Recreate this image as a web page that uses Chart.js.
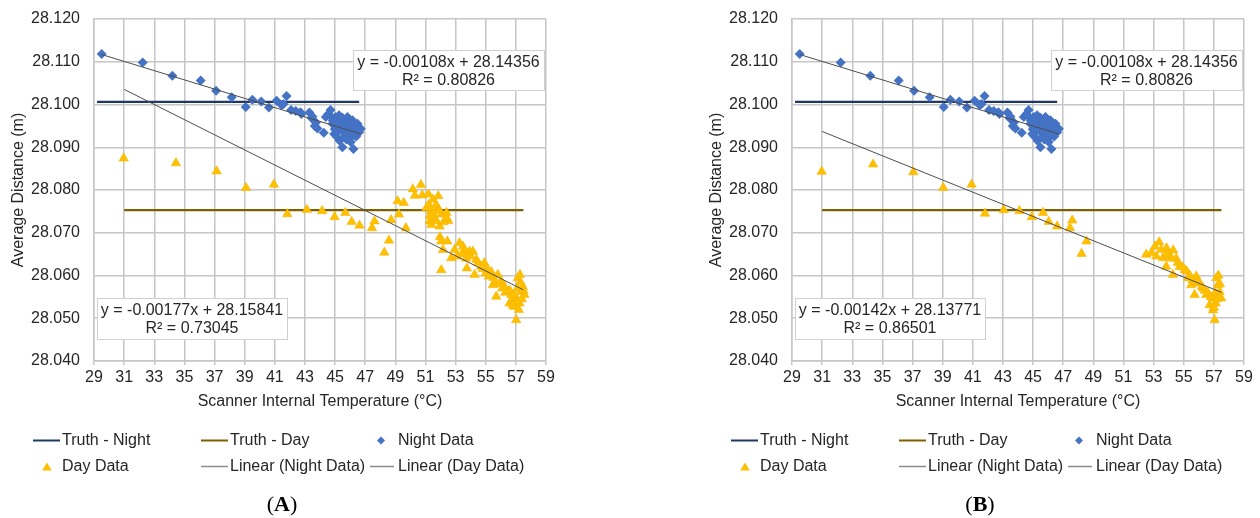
<!DOCTYPE html>
<html>
<head>
<meta charset="utf-8">
<script src="https://cdn.jsdelivr.net/npm/chart.js@4.4.1/dist/chart.umd.min.js"></script>
<style>
  html, body { margin: 0; padding: 0; background: #fff; }
  body { width: 1260px; height: 518px; position: relative; overflow: hidden; }
  .panel { position: absolute; top: 0; width: 560px; height: 518px; }
  #panelA { left: 0; }
  #panelB { left: 698px; }
</style>
</head>
<body>
<div class="panel" id="panelA"><canvas id="chartA" width="560" height="518"></canvas></div>
<div class="panel" id="panelB"><canvas id="chartB" width="560" height="518"></canvas></div>
<script>
// Axis ticks
const xTicks = [29, 31, 33, 35, 37, 39, 41, 43, 45, 47, 49, 51, 53, 55, 57, 59];
const yTicks = [28.04, 28.05, 28.06, 28.07, 28.08, 28.09, 28.10, 28.11, 28.12];

// Reference distances (m) and the temperature span they cover
const truthNight = 28.1006;
const truthNightSpan = [29.2, 46.6];
const truthDay = 28.0753;
const truthDaySpan = [31, 57.5];

// Night observations [temperature, distance] (same in both panels)
const nightData = [
  [29.51, 28.1118], [32.23, 28.1098], [34.20, 28.1067], [36.08, 28.1056], [37.10, 28.1032],
  [38.14, 28.1017], [39.07, 28.0994], [39.51, 28.1011], [40.10, 28.1007], [40.61, 28.0993],
  [41.12, 28.1009], [41.45, 28.0999], [41.78, 28.1020], [41.58, 28.1001], [42.08, 28.0987],
  [42.39, 28.0985], [42.70, 28.0982], [42.77, 28.0978], [43.30, 28.0981], [43.45, 28.0968],
  [43.50, 28.0972], [43.73, 28.0958], [43.65, 28.0950], [43.83, 28.0944], [44.25, 28.0934],
  [44.38, 28.0971], [44.55, 28.0978], [44.70, 28.0987], [44.62, 28.0975], [44.85, 28.0962],
  [44.83, 28.0955], [44.95, 28.0968], [45.05, 28.0971], [45.05, 28.0947], [45.16, 28.0963],
  [45.20, 28.0955], [45.27, 28.0975], [45.27, 28.0939], [45.38, 28.0959], [45.40, 28.0948],
  [45.49, 28.0969], [45.49, 28.0951], [45.55, 28.0935], [45.60, 28.0924], [45.65, 28.0962],
  [45.71, 28.0959], [45.71, 28.0943], [45.82, 28.0971], [45.82, 28.0931], [45.85, 28.0952],
  [45.93, 28.0920], [45.95, 28.0962], [46.04, 28.0939], [46.04, 28.0912], [46.15, 28.0963],
  [46.12, 28.0950], [46.26, 28.0947], [46.30, 28.0957], [46.37, 28.0935], [46.49, 28.0955],
  [46.55, 28.0945], [46.60, 28.0935], [46.71, 28.0943], [45.49, 28.0900], [46.22, 28.0896],
  [44.94, 28.0931], [45.10, 28.0925], [45.30, 28.0915], [45.75, 28.0918], [46.40, 28.0925],
  [44.98, 28.0942], [45.62, 28.0947], [46.18, 28.0928]
];

// Day observations, full set (A)
const dayDataA = [
  [30.97, 28.0874], [34.44, 28.0863], [37.14, 28.0844], [39.09, 28.0805], [40.94, 28.0813],
  [41.83, 28.0744], [43.13, 28.0754], [44.14, 28.0751], [44.97, 28.0737], [45.68, 28.0747],
  [46.10, 28.0726], [46.62, 28.0717], [47.45, 28.0711], [47.62, 28.0727], [48.27, 28.0654],
  [48.58, 28.0682], [48.72, 28.0730], [49.15, 28.0774], [49.24, 28.0743], [49.56, 28.0770],
  [49.70, 28.0711], [50.16, 28.0802], [50.30, 28.0787], [50.70, 28.0812], [50.79, 28.0788],
  [51.06, 28.0758], [51.20, 28.0790], [51.23, 28.0766], [51.28, 28.0727], [51.39, 28.0751],
  [51.39, 28.0719], [51.50, 28.0778], [51.61, 28.0735], [51.72, 28.0727], [51.85, 28.0786],
  [51.83, 28.0758], [51.94, 28.0715], [52.05, 28.0743], [52.40, 28.0747], [52.51, 28.0728],
  [51.96, 28.0690], [52.05, 28.0680], [52.16, 28.0660], [52.45, 28.0680], [52.05, 28.0613],
  [51.50, 28.0745], [51.70, 28.0765], [52.20, 28.0725], [51.30, 28.0740], [51.90, 28.0752],
  [52.40, 28.0735], [52.71, 28.0641], [52.93, 28.0660], [53.26, 28.0676], [53.49, 28.0668],
  [53.60, 28.0656], [53.75, 28.0617], [53.93, 28.0656], [54.15, 28.0656], [54.26, 28.0602],
  [54.37, 28.0637], [54.70, 28.0621], [54.92, 28.0629], [55.14, 28.0613], [55.36, 28.0609],
  [55.48, 28.0578], [55.70, 28.0551], [55.80, 28.0602], [56.03, 28.0586], [56.25, 28.0574],
  [56.47, 28.0562], [56.58, 28.0535], [56.69, 28.0555], [56.80, 28.0543], [56.91, 28.0527],
  [57.02, 28.0496], [57.13, 28.0594], [57.27, 28.0602], [57.35, 28.0562], [57.46, 28.0574],
  [57.57, 28.0555], [57.24, 28.0535], [57.02, 28.0547], [53.10, 28.0645], [53.40, 28.0650],
  [53.70, 28.0640], [54.00, 28.0645], [54.50, 28.0630], [54.80, 28.0615], [55.00, 28.0605],
  [55.20, 28.0598], [55.50, 28.0595], [55.60, 28.0585], [55.90, 28.0580], [56.10, 28.0570],
  [56.30, 28.0560], [56.60, 28.0565], [56.90, 28.0555], [57.10, 28.0570], [57.30, 28.0585],
  [57.50, 28.0565], [57.40, 28.0545], [57.10, 28.0540], [56.80, 28.0530], [57.20, 28.0520]
];

// Day observations without the 49-52 °C group (B)
const dayDataB = [
  [30.97, 28.0843], [34.38, 28.0860], [37.05, 28.0842], [39.04, 28.0805], [40.92, 28.0813],
  [41.81, 28.0745], [43.05, 28.0753], [44.10, 28.0751], [44.92, 28.0737], [45.66, 28.0747],
  [46.04, 28.0726], [46.60, 28.0715], [47.45, 28.0711], [47.60, 28.0729], [48.55, 28.0680],
  [48.22, 28.0651], [52.51, 28.0649], [52.85, 28.0653], [53.09, 28.0668], [53.18, 28.0645],
  [53.37, 28.0678], [53.62, 28.0641], [53.86, 28.0664], [54.06, 28.0645], [53.84, 28.0621],
  [54.30, 28.0659], [54.28, 28.0602], [54.50, 28.0640], [54.73, 28.0621], [55.06, 28.0613],
  [55.28, 28.0594], [55.50, 28.0578], [55.72, 28.0555], [55.83, 28.0598], [56.05, 28.0582],
  [56.27, 28.0570], [56.50, 28.0555], [56.72, 28.0531], [56.94, 28.0519], [57.05, 28.0496],
  [57.16, 28.0594], [57.27, 28.0578], [57.38, 28.0562], [57.49, 28.0547], [56.94, 28.0547],
  [57.12, 28.0535], [53.50, 28.0660], [53.90, 28.0650], [54.20, 28.0640], [54.60, 28.0630],
  [54.90, 28.0620], [55.20, 28.0610], [55.40, 28.0600], [55.60, 28.0590], [55.90, 28.0585],
  [56.20, 28.0575], [56.40, 28.0565], [56.60, 28.0560], [56.80, 28.0550], [57.10, 28.0560],
  [57.30, 28.0600], [57.40, 28.0580], [57.20, 28.0545], [57.00, 28.0525]
];

// Linear fits [slope, intercept, R²] and the x range each line covers
const nightFit = [-0.00108, 28.14356, 0.80826];
const nightFitSpan = [29.5, 46.7];
const dayFitA = [-0.00177, 28.15841, 0.73045];
const dayFitB = [-0.00142, 28.13771, 0.86501];
const dayFitSpan = [31, 57.5];

const FONT = '"Liberation Sans", Arial, sans-serif';
const TEXT = '#262626';
const GRID = '#C6C6C6';
const NIGHT_BLUE = '#4472C4';
const DAY_GOLD = '#FFC000';
const NAVY = '#203864';
const OLIVE = '#7F6000';
const TREND = '#4D4D4D';
const TREND_LEGEND = '#8C8C8C';

const toPoints = arr => arr.map(p => ({ x: p[0], y: p[1] }));
const fitLine = (fit, span) => span.map(x => ({ x: x, y: fit[0] * x + fit[1] }));
const eqText = fit => [
  'y = ' + fit[0].toFixed(5) + 'x + ' + fit[1].toFixed(5),
  'R\u00B2 = ' + fit[2].toFixed(5)
];

function diamond(ctx, x, y, r) {
  ctx.beginPath();
  ctx.moveTo(x, y - r);
  ctx.lineTo(x + r, y);
  ctx.lineTo(x, y + r);
  ctx.lineTo(x - r, y);
  ctx.closePath();
  ctx.fill();
}

function triangle(ctx, x, y, r) {
  ctx.beginPath();
  ctx.moveTo(x, y - r);
  ctx.lineTo(x + r * 0.95, y + r * 0.6);
  ctx.lineTo(x - r * 0.95, y + r * 0.6);
  ctx.closePath();
  ctx.fill();
}

// Equation boxes, legend grid and panel letter
const panelDecor = {
  id: 'panelDecor',
  afterDatasetsDraw(chart, args, opts) {
    const ctx = chart.ctx;
    ctx.save();
    opts.boxes.forEach(b => {
      ctx.fillStyle = '#fff';
      ctx.fillRect(b.x, b.y, b.w, b.h);
      ctx.strokeStyle = '#D0D0D0';
      ctx.lineWidth = 1;
      ctx.strokeRect(b.x + 0.5, b.y + 0.5, b.w, b.h);
      ctx.fillStyle = TEXT;
      ctx.font = '16px ' + FONT;
      ctx.textAlign = 'center';
      ctx.textBaseline = 'middle';
      b.lines.forEach((t, i) => ctx.fillText(t, b.x + b.w / 2, b.y + 12.5 + i * 18.5));
    });
    ctx.restore();
  },
  afterDraw(chart, args, opts) {
    const ctx = chart.ctx;
    ctx.save();
    ctx.font = '16px ' + FONT;
    ctx.textBaseline = 'middle';
    ctx.textAlign = 'left';
    const rows = [440.5, 466.5];
    const cols = [[33, 60, 62], [201, 228, 230], [370, 394, 398]];
    const items = [
      { row: 0, col: 0, text: 'Truth - Night', line: NAVY, w: 2 },
      { row: 0, col: 1, text: 'Truth - Day', line: OLIVE, w: 2 },
      { row: 0, col: 2, text: 'Night Data', mark: 'diamond' },
      { row: 1, col: 0, text: 'Day Data', mark: 'triangle' },
      { row: 1, col: 1, text: 'Linear (Night Data)', line: TREND_LEGEND, w: 1.5 },
      { row: 1, col: 2, text: 'Linear (Day Data)', line: TREND_LEGEND, w: 1.5 }
    ];
    items.forEach(it => {
      const y = rows[it.row];
      const c = cols[it.col];
      if (it.line) {
        ctx.strokeStyle = it.line;
        ctx.lineWidth = it.w;
        ctx.beginPath();
        ctx.moveTo(c[0], y);
        ctx.lineTo(c[1], y);
        ctx.stroke();
      } else if (it.mark === 'diamond') {
        ctx.fillStyle = NIGHT_BLUE;
        diamond(ctx, c[2] - 17, y, 4);
      } else {
        ctx.fillStyle = DAY_GOLD;
        triangle(ctx, c[2] - 15, y + 1, 5);
      }
      ctx.fillStyle = TEXT;
      ctx.fillText(it.text, c[2], y);
    });

    // panel letter
    ctx.textAlign = 'left';
    ctx.textBaseline = 'middle';
    const cx = 282, cy = 505;
    ctx.font = '22px "Liberation Serif", "Times New Roman", serif';
    const lp = ctx.measureText('(').width;
    ctx.font = 'bold 22px "Liberation Serif", "Times New Roman", serif';
    const lw = ctx.measureText(opts.letter).width;
    const total = lp * 2 + lw;
    let x = cx - total / 2;
    ctx.fillStyle = '#000';
    ctx.font = '22px "Liberation Serif", "Times New Roman", serif';
    ctx.fillText('(', x, cy);
    ctx.font = 'bold 22px "Liberation Serif", "Times New Roman", serif';
    ctx.fillText(opts.letter, x + lp, cy);
    ctx.font = '22px "Liberation Serif", "Times New Roman", serif';
    ctx.fillText(')', x + lp + lw, cy);
    ctx.restore();
  }
};

function makePanel(canvasId, dayData, dayFit, letter) {
  const ctx = document.getElementById(canvasId).getContext('2d');
  return new Chart(ctx, {
    type: 'scatter',
    data: {
      datasets: [
        {
          label: 'Linear (Night Data)',
          data: fitLine(nightFit, nightFitSpan),
          showLine: true, pointRadius: 0,
          borderColor: TREND, borderWidth: 1, order: 0
        },
        {
          label: 'Linear (Day Data)',
          data: fitLine(dayFit, dayFitSpan),
          showLine: true, pointRadius: 0,
          borderColor: TREND, borderWidth: 1, order: 0
        },
        {
          label: 'Night Data',
          data: toPoints(nightData),
          pointStyle: 'rectRot', pointRadius: 5,
          backgroundColor: NIGHT_BLUE, borderColor: NIGHT_BLUE, borderWidth: 0, order: 1
        },
        {
          label: 'Day Data',
          data: toPoints(dayData),
          pointStyle: 'triangle', pointRadius: 5.5,
          backgroundColor: DAY_GOLD, borderColor: '#F2B200', borderWidth: 0.5, order: 1
        },
        {
          label: 'Truth - Night',
          data: truthNightSpan.map(x => ({ x: x, y: truthNight })),
          showLine: true, pointRadius: 0,
          borderColor: NAVY, borderWidth: 2.25, order: 2
        },
        {
          label: 'Truth - Day',
          data: truthDaySpan.map(x => ({ x: x, y: truthDay })),
          showLine: true, pointRadius: 0,
          borderColor: OLIVE, borderWidth: 2.25, order: 2
        }
      ]
    },
    options: {
      responsive: false,
      animation: false,
      layout: { padding: { top: 19, right: 14, bottom: 98, left: 0 } },
      plugins: {
        legend: { display: false },
        tooltip: { enabled: false },
        panelDecor: {
          letter: letter,
          boxes: [
            { x: 353, y: 50, w: 191, h: 40, lines: eqText(nightFit) },
            { x: 97, y: 298, w: 190, h: 41, lines: eqText(dayFit) }
          ]
        }
      },
      scales: {
        x: {
          type: 'linear', min: 29, max: 59,
          afterBuildTicks: s => { s.ticks = xTicks.map(v => ({ value: v })); },
          afterFit: s => { s.height = 59; s.paddingLeft = 0; s.paddingRight = 0; },
          grid: { color: GRID, lineWidth: 1.5, tickLength: 4 },
          border: { color: GRID, width: 1.5 },
          ticks: { color: TEXT, font: { family: FONT, size: 16 }, padding: 3, maxRotation: 0, autoSkip: false },
          title: {
            display: true, text: 'Scanner Internal Temperature (\u00B0C)', color: TEXT,
            font: { family: FONT, size: 16 }, padding: { top: 2, bottom: 9 }
          }
        },
        y: {
          type: 'linear', min: 28.04, max: 28.12,
          afterBuildTicks: s => { s.ticks = yTicks.map(v => ({ value: v })); },
          afterFit: s => { s.width = 94; s.paddingTop = 0; s.paddingBottom = 0; },
          grid: { color: GRID, lineWidth: 1.5, drawTicks: false },
          border: { color: GRID, width: 1.5 },
          ticks: {
            color: TEXT, font: { family: FONT, size: 16 }, padding: 14, autoSkip: false,
            callback: v => v.toFixed(3)
          },
          title: {
            display: true, text: 'Average Distance (m)', color: TEXT,
            font: { family: FONT, size: 16 }, padding: { top: 9, bottom: 0 }
          }
        }
      }
    },
    plugins: [panelDecor]
  });
}

makePanel('chartA', dayDataA, dayFitA, 'A');
makePanel('chartB', dayDataB, dayFitB, 'B');
</script>
</body>
</html>
